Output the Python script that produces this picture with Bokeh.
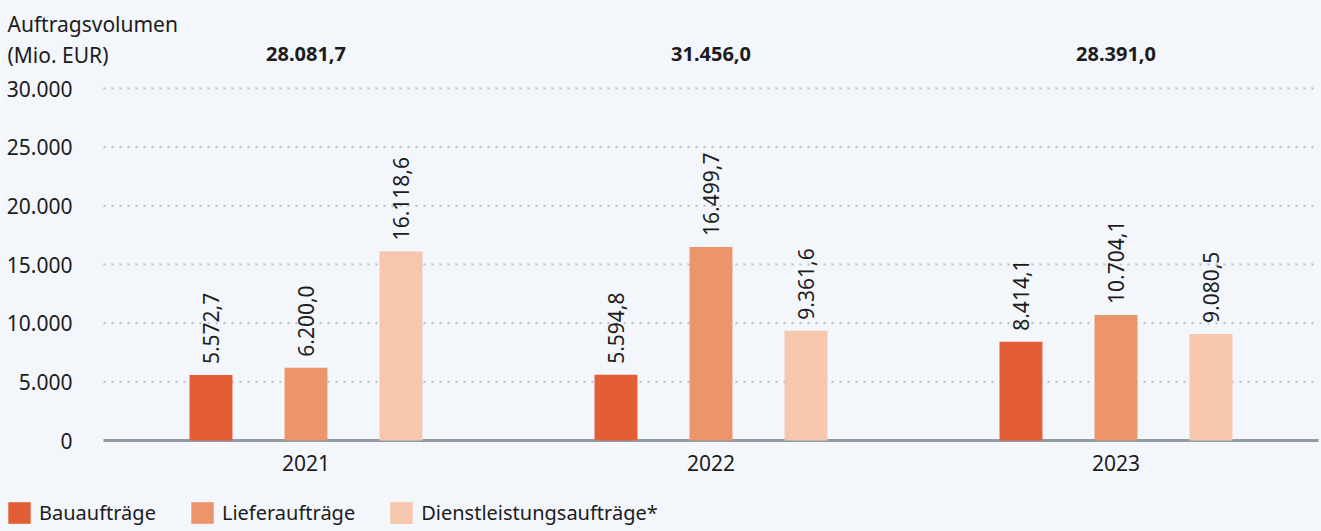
import math
from bokeh.plotting import figure
from bokeh.models import ColumnDataSource, Range1d, Legend, LegendItem, Label
from bokeh.transform import dodge
from bokeh.core.properties import value
from bokeh.embed import file_html
from bokeh.resources import INLINE

years = ["2021", "2022", "2023"]
bau = [5572.7, 5594.8, 8414.1]
liefer = [6200.0, 16499.7, 10704.1]
dienst = [16118.6, 9361.6, 9080.5]
totals = [28081.7, 31456.0, 28391.0]
series_names = ["Bauaufträge", "Lieferaufträge", "Dienstleistungsaufträge*"]
y_ticks = [0, 5000, 10000, 15000, 20000, 25000, 30000]
y_tick_labels = ["0", "5.000", "10.000", "15.000", "20.000", "25.000", "30.000"]
title_lines = ["Auftragsvolumen", "(Mio. EUR)"]

colors = ["#e35e34", "#ec946b", "#f6c6ad"]
BG = "#f3f6fb"
TXT = "#1c1c1c"
FONT = "Noto Sans"
FS = "21px"
FS_LEG = "20px"


def de(v):
    s = f"{v:,.1f}"
    return s.replace(",", "X").replace(".", ",").replace("X", ".")


xs = list(range(len(years)))
src = ColumnDataSource(dict(
    x=xs, year=years, bau=bau, liefer=liefer, dienst=dienst, total=totals,
    bau_l=[de(v) for v in bau], liefer_l=[de(v) for v in liefer],
    dienst_l=[de(v) for v in dienst], total_l=[de(v) for v in totals],
))
tick_src = ColumnDataSource(dict(y=y_ticks, label=y_tick_labels))

# layout: frame covers the whole canvas
W, H = 1321, 531
PX_X = 405.0                 # pixels per category
X0_PX = 305.5                # first category centre, px from left
PX_Y = 352.0 / 30000.0       # pixels per unit
Y0_PX = 91.0                 # zero line, px from bottom
x_start = -X0_PX / PX_X
x_end = x_start + W / PX_X
y_start = -Y0_PX / PX_Y
y_end = y_start + H / PX_Y
plot_left = -0.5             # where grid and baseline begin
plot_right = x_start + 1318 / PX_X

p = figure(width=W, height=H, output_backend="svg", toolbar_location=None,
           x_range=Range1d(x_start, x_end), y_range=Range1d(y_start, y_end),
           x_axis_location=None, y_axis_location=None,
           min_border=0)
p.background_fill_color = BG
p.border_fill_color = BG
p.outline_line_color = None
p.grid.visible = False

# grid lines (dotted) and baseline
grid_y = y_ticks[1:]
p.segment(x0=[plot_left] * len(grid_y), x1=[plot_right] * len(grid_y), y0=grid_y, y1=grid_y,
          line_color="#b6bdc5", line_width=2, line_dash="2 6")
p.segment(x0=[plot_left], x1=[plot_right], y0=[y_ticks[0]], y1=[y_ticks[0]],
          line_color="#8e9ca6", line_width=3)

# y tick labels
p.text(x=plot_left, y="y", text="label", source=tick_src, x_offset=-31,
       text_align="right", text_baseline="middle", text_font=value(FONT),
       text_font_size=FS, text_color=TXT)

# bars and value labels
offs = [-0.2346, 0.0, 0.2346]
keys = ["bau", "liefer", "dienst"]
renderers = []
for k, off, c in zip(keys, offs, colors):
    r = p.vbar(x=dodge("x", off), top=k, width=0.106, bottom=0, source=src,
               fill_color=c, line_color=None)
    renderers.append(r)
    p.text(x=dodge("x", off), y=k, text=k + "_l", source=src, angle=math.pi / 2,
           text_align="left", text_baseline="middle", y_offset=-11,
           text_font=value(FONT), text_font_size=FS, text_color=TXT)

# year labels under the baseline
p.text(x="x", y=y_ticks[0], text="year", source=src, y_offset=22,
       text_align="center", text_baseline="middle", text_font=value(FONT),
       text_font_size=FS, text_color=TXT)

# totals above the chart
p.text(x="x", y=y_ticks[-1], text="total_l", source=src, y_offset=-35,
       text_align="center", text_baseline="middle", text_font=value(FONT),
       text_font_size="20px", text_font_style="bold", text_color=TXT)

# axis title (two lines, top left)
p.add_layout(Label(x=7, y=508, x_units="screen", y_units="screen",
                   text=title_lines[0], text_baseline="middle",
                   text_font=FONT, text_font_size=FS, text_color=TXT))
p.add_layout(Label(x=7, y=477, x_units="screen", y_units="screen",
                   text=title_lines[1], text_baseline="middle",
                   text_font=FONT, text_font_size=FS, text_color=TXT))

legend = Legend(items=[LegendItem(label=n, renderers=[r]) for n, r in zip(series_names, renderers)],
                location=(5, 5), orientation="horizontal",
                glyph_width=28, glyph_height=27, label_standoff=6, spacing=32,
                padding=0, margin=0, border_line_color=None,
                background_fill_alpha=0, label_text_font=FONT,
                label_text_font_size=FS_LEG, label_text_color=TXT)
p.add_layout(legend)

open("out.html", "w").write(file_html(p, INLINE))
